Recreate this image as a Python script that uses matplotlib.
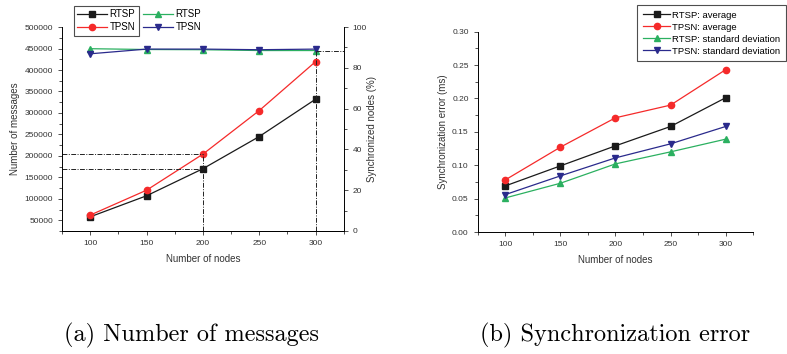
import matplotlib.pyplot as plt
from matplotlib.ticker import MultipleLocator

nodes = [100, 150, 200, 250, 300]

# (a) number of messages
msg_rtsp = [58000, 107000, 170000, 245000, 332000]
msg_tpsn = [62000, 120000, 204000, 305500, 419500]
sync_rtsp = [89.4, 89.0, 88.9, 88.5, 88.5]
sync_tpsn = [86.9, 89.2, 89.2, 88.9, 89.2]

# (b) synchronization error (ms)
err_rtsp_avg = [0.069, 0.099, 0.129, 0.158, 0.201]
err_tpsn_avg = [0.078, 0.127, 0.171, 0.190, 0.243]
err_rtsp_std = [0.051, 0.073, 0.102, 0.120, 0.139]
err_tpsn_std = [0.056, 0.084, 0.111, 0.132, 0.158]

captions = ["(a) Number of messages", "(b) Synchronization error"]

BLACK = "#1a1a1a"
RED = "#f52a2a"
GREEN = "#2bb060"
NAVY = "#2a2a8c"

plt.rcParams["font.family"] = ["Liberation Sans", "DejaVu Sans"]
plt.rcParams["font.size"] = 6

fig = plt.figure(figsize=(7.87, 3.54), dpi=100)


def style_axes(ax, right=False):
    ax.spines["top"].set_visible(False)
    if not right:
        ax.spines["right"].set_visible(False)
    for s in ax.spines.values():
        s.set_linewidth(0.7)
    ax.tick_params(which="both", direction="out", width=0.6, labelsize=6,
                   colors="#333333", labelcolor="#333333")
    ax.tick_params(which="major", length=3)
    ax.tick_params(which="minor", length=2)


line_kw = dict(lw=0.9, ms=4.5)

# ---- left chart
ax1 = fig.add_axes([0.0788, 0.3475, 0.358, 0.576])
ax2 = ax1.twinx()
style_axes(ax1)
style_axes(ax2, right=True)
ax2.spines["left"].set_visible(False)

h1, = ax1.plot(nodes, msg_rtsp, marker="s", color=BLACK, label="RTSP", **line_kw)
h2, = ax1.plot(nodes, msg_tpsn, marker="o", color=RED, label="TPSN", **line_kw)
h3, = ax2.plot(nodes, sync_rtsp, marker="^", color=GREEN, label="RTSP", **line_kw)
h4, = ax2.plot(nodes, sync_tpsn, marker="v", color=NAVY, label="TPSN", **line_kw)

ax1.set_xlim(75, 325)
ax1.set_ylim(25000, 500000)
ax2.set_ylim(0, 100)
ax1.set_xticks(nodes)
ax1.xaxis.set_minor_locator(MultipleLocator(25))
ax1.set_yticks(range(50000, 500001, 50000))
ax1.yaxis.set_minor_locator(MultipleLocator(25000))
ax2.set_yticks(range(0, 101, 20))
ax2.yaxis.set_minor_locator(MultipleLocator(10))
ax1.set_xlabel("Number of nodes", fontsize=7, color="#333333", labelpad=5)
ax1.set_ylabel("Number of messages", fontsize=7, color="#333333", labelpad=3)
ax2.set_ylabel("Synchronized nodes (%)", fontsize=7, color="#333333", labelpad=0)

# drop lines at 200 and 300 nodes
dd = dict(color="#222222", lw=0.7, ls=(0, (5, 1.5, 1, 1.5)))
i200 = nodes.index(200)
i300 = nodes.index(300)
ax1.hlines([msg_tpsn[i200], msg_rtsp[i200]], 75, 200, **dd)
ax1.vlines(200, 25000, msg_tpsn[i200], **dd)
ax2.vlines(300, 0, sync_rtsp[i300], **dd)
ax2.hlines(sync_rtsp[i300], 300, 325, **dd)

leg1 = fig.legend(handles=[h1, h2], loc="upper left",
                  bbox_to_anchor=(74 / 787, 1 - 6 / 354), fontsize=7,
                  frameon=True, fancybox=False, edgecolor="#222222",
                  handlelength=3.0, handletextpad=0.3, borderpad=0.35,
                  labelspacing=0.3, borderaxespad=0)
leg1.get_frame().set_linewidth(0.8)
fig.legend(handles=[h3, h4], loc="upper left",
           bbox_to_anchor=(140 / 787, 1 - 6 / 354), fontsize=7,
           frameon=False, handlelength=3.0, handletextpad=0.3, borderpad=0.35,
           labelspacing=0.3, borderaxespad=0)

# ---- right chart
ax3 = fig.add_axes([0.607, 0.3446, 0.35, 0.566])
style_axes(ax3)
ax3.plot(nodes, err_rtsp_avg, marker="s", color=BLACK, label="RTSP: average", **line_kw)
ax3.plot(nodes, err_tpsn_avg, marker="o", color=RED, label="TPSN: average", **line_kw)
ax3.plot(nodes, err_rtsp_std, marker="^", color=GREEN,
         label="RTSP: standard deviation", **line_kw)
ax3.plot(nodes, err_tpsn_std, marker="v", color=NAVY,
         label="TPSN: standard deviation", **line_kw)
ax3.set_xlim(75, 325)
ax3.set_ylim(0, 0.30)
ax3.set_xticks(nodes)
ax3.xaxis.set_minor_locator(MultipleLocator(25))
ax3.set_yticks([0, 0.05, 0.10, 0.15, 0.20, 0.25, 0.30])
ax3.yaxis.set_major_formatter(plt.FormatStrFormatter("%.2f"))
ax3.yaxis.set_minor_locator(MultipleLocator(0.025))
ax3.set_xlabel("Number of nodes", fontsize=7, color="#333333", labelpad=5)
ax3.set_ylabel("Synchronization error (ms)", fontsize=7, color="#333333", labelpad=3)
leg3 = ax3.legend(loc="upper right", bbox_to_anchor=(786 / 787, 1 - 5 / 354),
                  bbox_transform=fig.transFigure, fontsize=6.8, frameon=True,
                  fancybox=False, edgecolor="#222222", handlelength=2.9,
                  handletextpad=0.2, borderpad=0.6, labelspacing=0.32,
                  borderaxespad=0)
leg3.get_frame().set_linewidth(0.8)

# captions
fig.text(191 / 787, 1 - 335 / 354, captions[0], family="cmr10", fontsize=17.5,
         ha="center", va="center")
fig.text(615 / 787, 1 - 335 / 354, captions[1], family="cmr10", fontsize=17.5,
         ha="center", va="center")

fig.savefig("out.png", dpi=100)
